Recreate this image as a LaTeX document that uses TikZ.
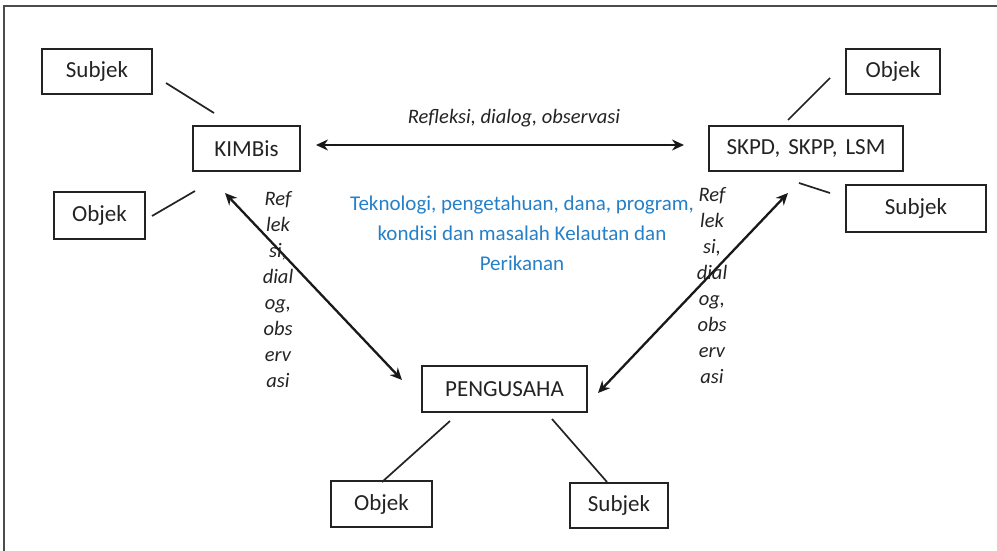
\documentclass[tikz,border=0pt]{standalone}
\usepackage{fontspec}
\setmainfont{Carlito}
\usetikzlibrary{arrows.meta}
\definecolor{bluetext}{RGB}{38,128,200}
\definecolor{ink}{RGB}{35,35,35}
\begin{document}
\begin{tikzpicture}[x=1pt,y=-1pt,
  box/.style={draw=ink, line width=2pt, inner sep=0pt, font=\fontsize{23}{27}\selectfont, text=ink},
  link/.style={draw=ink, line width=1.7pt},
  dbl/.style={draw=black!90, line width=2.3pt, {Stealth[length=12pt,width=11pt]}-{Stealth[length=12pt,width=11pt]}},
  lbl/.style={font=\fontsize{20.5}{26}\selectfont\itshape, text=ink, align=center, inner sep=0pt},
  note/.style={font=\fontsize{21}{30}\selectfont, text=bluetext, align=center, inner sep=0pt}
]
\useasboundingbox (0,0) rectangle (997,551);
\draw[line width=2pt, draw=gray!60!black] (4,551) -- (4,6) -- (997,6);

% nodes
\node[box, minimum width=110pt, minimum height=45pt] (subjTL) at (97,71.5) {Subjek};
\node[box, minimum width=107pt, minimum height=45pt] (kimbis) at (246.5,148.5) {KIMBis};
\node[box, minimum width=91pt, minimum height=47pt] (objL) at (99.5,215) {Objek};
\node[box, minimum width=194pt, minimum height=45pt] (skpd) at (806,148.5) {SKPD,\hspace{0.35em}SKPP,\hspace{0.35em}LSM};
\node[box, minimum width=94pt, minimum height=45pt] (objR) at (893,71.5) {Objek};
\node[box, minimum width=140pt, minimum height=47pt] (subjR) at (916,208.5) {Subjek};
\node[box, minimum width=165pt, minimum height=46pt] (peng) at (504.5,389) {PENGUSAHA};
\node[box, minimum width=101pt, minimum height=46pt] (objB) at (381.5,504) {Objek};
\node[box, minimum width=98pt, minimum height=45pt] (subjB) at (619,505.5) {Subjek};

% connector end points
\coordinate (l1a) at (166,83);  \coordinate (l1b) at (214,113);
\coordinate (l2a) at (152,216); \coordinate (l2b) at (195,191);
\coordinate (l3a) at (788,120); \coordinate (l3b) at (830,78);
\coordinate (l4a) at (799,183); \coordinate (l4b) at (830,193);
\coordinate (l5a) at (450,421); \coordinate (l5b) at (382,482);
\coordinate (l6a) at (552,419); \coordinate (l6b) at (607,482);
\coordinate (a1a) at (225,193); \coordinate (a1b) at (402,380);
\coordinate (a2a) at (788,193); \coordinate (a2b) at (598,393);

\draw[link] (l1a) -- (l1b);
\draw[link] (l2a) -- (l2b);
\draw[link] (l3a) -- (l3b);
\draw[link] (l4a) -- (l4b);
\draw[link] (l5a) -- (l5b);
\draw[link] (l6a) -- (l6b);

\draw[dbl, shorten <=15pt, shorten >=24pt] ([yshift=3.5pt]kimbis.east) -- ([yshift=3.5pt]skpd.west);
\draw[dbl] (a1a) -- (a1b);
\draw[dbl] (a2a) -- (a2b);

% labels
\node[lbl] (top) at (514,118) {Refleksi, dialog, observasi};
\node[lbl] (leftlbl) at (278,290) {Ref\\lek\\si,\\dial\\og,\\obs\\erv\\asi};
\node[lbl] (rightlbl) at (712,286) {Ref\\lek\\si,\\dial\\og,\\obs\\erv\\asi};
\node[note] (center) at (522,233) {Teknologi, pengetahuan, dana, program,\\kondisi dan masalah Kelautan dan\\Perikanan};
\end{tikzpicture}
\end{document}
